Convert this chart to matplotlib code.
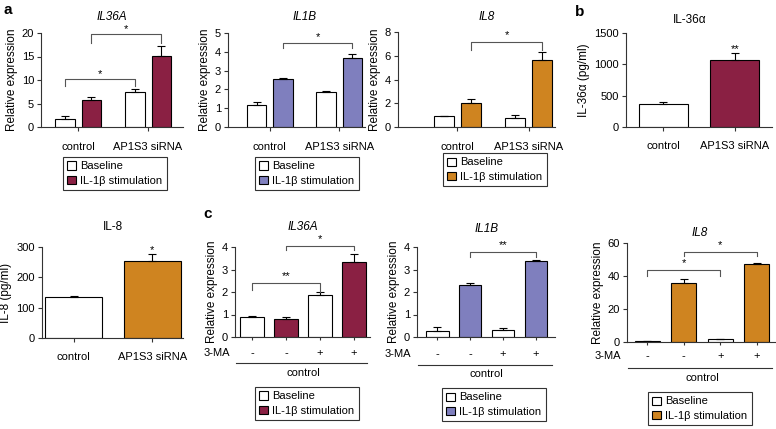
import matplotlib.pyplot as plt
import matplotlib.transforms as mtransforms
from matplotlib.patches import Patch
import numpy as np

plt.rcParams['font.family'] = ['Liberation Sans', 'DejaVu Sans']

# ---- data ----
groups = ['control', 'AP1S3 siRNA']
ma_signs = ['-', '-', '+', '+']

# panel a (qPCR, baseline vs IL-1b stimulation)
a_il36a_base = [1.6, 7.45]
a_il36a_base_err = [0.65, 0.6]
a_il36a_stim = [5.8, 15.2]
a_il36a_stim_err = [0.5, 2.0]

a_il1b_base = [1.15, 1.86]
a_il1b_base_err = [0.18, 0.07]
a_il1b_stim = [2.57, 3.67]
a_il1b_stim_err = [0.03, 0.2]

a_il8_base = [0.95, 0.75]
a_il8_base_err = [0.0, 0.28]
a_il8_stim = [2.0, 5.63]
a_il8_stim_err = [0.38, 0.7]

# panel b (ELISA)
b_il36 = [367, 1069]
b_il36_err = [32, 112]
b_il8 = [134, 253]
b_il8_err = [5, 23]

# panel c (3-MA)
c_il36a = [0.88, 0.80, 1.87, 3.33]
c_il36a_err = [0.05, 0.08, 0.15, 0.34]
c_il1b = [0.27, 2.31, 0.29, 3.38]
c_il1b_err = [0.16, 0.08, 0.11, 0.04]
c_il8 = [0.7, 35.5, 1.6, 47.5]
c_il8_err = [0.1, 2.5, 0.2, 0.4]

MAROON = '#8A2043'
LAVENDER = '#7F7FBE'
ORANGE = '#CF8420'
LINE = '#333333'

W, H = 776, 429
fig = plt.figure(figsize=(W / 100, H / 100), dpi=100)


def px_axes(x0, y0, x1, y1):
    return fig.add_axes([x0 / W, 1 - y1 / H, (x1 - x0) / W, (y1 - y0) / H])


def ftext(x, y, s, **kw):
    fig.text(x / W, 1 - y / H, s, ha='center', va='center', **kw)


def style(ax, ylim, yticks):
    for s in ['top', 'right']:
        ax.spines[s].set_visible(False)
    for s in ['left', 'bottom']:
        ax.spines[s].set_linewidth(0.8)
        ax.spines[s].set_color(LINE)
    ax.set_ylim(*ylim)
    ax.set_yticks(yticks)
    ax.tick_params(labelsize=8, length=3, width=0.8, color=LINE, pad=2)


def errs(ax, x, y, e):
    ax.errorbar(x, y, yerr=[np.zeros(len(e)), e], fmt='none', ecolor='black',
                elinewidth=0.8, capsize=3, capthick=0.8, clip_on=False)


def bracket(ax, x1, x2, ytop, yl, yr, star, soff):
    ax.plot([x1, x1, x2, x2], [yl, ytop, ytop, yr], color='#555555', lw=0.8,
            clip_on=False)
    ax.text((x1 + x2) / 2, ytop + soff, star, ha='center', va='center',
            fontsize=8)


def legend(ax, color, x, y):
    handles = [Patch(facecolor='white', edgecolor='black', lw=0.8),
               Patch(facecolor=color, edgecolor='black', lw=0.8)]
    leg = ax.legend(handles, ['Baseline', 'IL-1\u03b2 stimulation'],
                    loc='upper left', bbox_to_anchor=(x / W, 1 - y / H),
                    bbox_transform=fig.transFigure, fontsize=8,
                    handlelength=0.75, handleheight=0.75, handletextpad=0.4,
                    labelspacing=0.4, borderpad=0.4, borderaxespad=0,
                    fancybox=False, framealpha=1)
    leg.get_frame().set_edgecolor(LINE)
    leg.get_frame().set_linewidth(0.8)


def grouped(ax, base, base_err, stim, stim_err, color, xlim):
    x = np.arange(len(groups))
    off, w = 0.19, 0.28
    ax.bar(x - off, base, w, color='white', edgecolor='black', lw=0.8)
    ax.bar(x + off, stim, w, color=color, edgecolor='black', lw=0.8)
    errs(ax, x - off, base, base_err)
    errs(ax, x + off, stim, stim_err)
    ax.set_xticks(x)
    ax.set_xticklabels(groups)
    ax.tick_params(axis='x', pad=8)
    ax.set_xlim(*xlim)
    ax.set_ylabel('Relative expression', fontsize=8.5, labelpad=3)
    return x, off


def two_bar(ax, vals, err, color, xlim, w):
    x = np.arange(len(groups))
    ax.bar(x, vals, w, color=['white', color], edgecolor='black', lw=0.8)
    errs(ax, x, vals, err)
    ax.set_xticks(x)
    ax.set_xticklabels(groups)
    ax.tick_params(axis='x', pad=7)
    ax.set_xlim(*xlim)
    return x


def four_bar(ax, vals, err, color, xlim, rows):
    x = np.arange(len(ma_signs))
    ax.bar(x, vals, 0.68, color=['white', color, 'white', color],
           edgecolor='black', lw=0.8)
    errs(ax, x, vals, err)
    ax.set_xticks(x)
    ax.set_xticklabels([])
    ax.tick_params(axis='x', length=2.5)
    ax.set_xlim(*xlim)
    ax.set_ylabel('Relative expression', fontsize=8.5, labelpad=3)
    tr = mtransforms.blended_transform_factory(ax.transData, ax.transAxes)
    ysign, yline, yctrl = rows
    for xi, s in zip(x, ma_signs):
        ax.text(xi, ysign, s, transform=tr, ha='center', va='center', fontsize=8)
    ax.text(-0.04, ysign, '3-MA', transform=ax.transAxes, ha='right',
            va='center', fontsize=8)
    ax.plot([0.01, 0.98], [yline, yline], transform=ax.transAxes, color=LINE,
            lw=0.8, clip_on=False)
    ax.text(1.5, yctrl, 'control', transform=tr, ha='center', va='center',
            fontsize=8)
    return x


# ---- panel a: IL36A ----
ax = px_axes(41, 33, 183, 127)
style(ax, (0, 20), [0, 5, 10, 15, 20])
x, off = grouped(ax, a_il36a_base, a_il36a_base_err, a_il36a_stim,
                 a_il36a_stim_err, MAROON, (-0.53, 1.5))
bracket(ax, x[0] - off, x[1] - off, 10.2, 8.7, 8.7, '*', 1.0)
bracket(ax, x[0] + off, x[1] + off, 19.8, 17.9, 17.9, '*', 1.0)
legend(ax, MAROON, 63, 157)
ftext(112, 17, 'IL36A', fontsize=8.5, style='italic')

# ---- panel a: IL1B ----
ax = px_axes(228, 33, 365, 127)
style(ax, (0, 5), [0, 1, 2, 3, 4, 5])
x, off = grouped(ax, a_il1b_base, a_il1b_base_err, a_il1b_stim,
                 a_il1b_stim_err, LAVENDER, (-0.6, 1.37))
bracket(ax, x[0] + off, x[1] + off, 4.47, 4.2, 4.2, '*', 0.3)
legend(ax, LAVENDER, 255, 157)
ftext(305, 17, 'IL1B', fontsize=8.5, style='italic')

# ---- panel a: IL8 ----
ax = px_axes(398, 32, 555, 127)
style(ax, (0, 8), [0, 2, 4, 6, 8])
x, off = grouped(ax, a_il8_base, a_il8_base_err, a_il8_stim,
                 a_il8_stim_err, ORANGE, (-0.83, 1.37))
bracket(ax, x[0] + off, x[1] + off, 7.2, 6.5, 6.5, '*', 0.55)
legend(ax, ORANGE, 443, 153)
ftext(487, 17, 'IL8', fontsize=8.5, style='italic')

# ---- panel b: IL-36a ELISA ----
ax = px_axes(626, 33, 772, 127)
style(ax, (0, 1500), [0, 500, 1000, 1500])
x = two_bar(ax, b_il36, b_il36_err, MAROON, (-0.52, 1.52), 0.68)
ax.text(x[1], b_il36[1] + b_il36_err[1] + 60, '**', ha='center', va='center',
        fontsize=8)
ax.set_ylabel('IL-36\u03b1 (pg/ml)', fontsize=8.5, labelpad=3)
ftext(690, 20, 'IL-36\u03b1', fontsize=8.5)

# ---- panel b: IL-8 ELISA ----
ax = px_axes(42, 247, 183, 338)
style(ax, (0, 300), [0, 100, 200, 300])
x = two_bar(ax, b_il8, b_il8_err, ORANGE, (-0.4, 1.39), 0.72)
ax.text(x[1], b_il8[1] + b_il8_err[1] + 14, '*', ha='center', va='center',
        fontsize=8)
ax.set_ylabel('IL-8 (pg/ml)', fontsize=8.5, labelpad=3)
ftext(113, 227, 'IL-8', fontsize=8.5)

# ---- panel c: IL36A ----
ax = px_axes(235, 247, 370, 337)
style(ax, (0, 4), [0, 1, 2, 3, 4])
x = four_bar(ax, c_il36a, c_il36a_err, MAROON, (-0.5, 3.47),
             (-0.18, -0.29, -0.40))
bracket(ax, x[0], x[2], 2.4, 2.1, 2.0, '**', 0.3)
bracket(ax, x[1], x[3], 4.05, 3.85, 3.85, '*', 0.3)
legend(ax, MAROON, 255, 387)
ftext(303, 227, 'IL36A', fontsize=8.5, style='italic')

# ---- panel c: IL1B ----
ax = px_axes(417, 247, 555, 337)
style(ax, (0, 4), [0, 1, 2, 3, 4])
x = four_bar(ax, c_il1b, c_il1b_err, LAVENDER, (-0.62, 3.58),
             (-0.19, -0.31, -0.41))
bracket(ax, x[1], x[3], 3.78, 3.55, 3.55, '**', 0.3)
legend(ax, LAVENDER, 442, 388)
ftext(487, 229, 'IL1B', fontsize=8.5, style='italic')

# ---- panel c: IL8 ----
ax = px_axes(627, 243, 775, 342)
style(ax, (0, 60), [0, 20, 40, 60])
x = four_bar(ax, c_il8, c_il8_err, ORANGE, (-0.55, 3.5),
             (-0.14, -0.26, -0.36))
bracket(ax, x[0], x[2], 43.6, 40, 40, '*', 4)
bracket(ax, x[1], x[3], 54.5, 52, 52, '*', 4)
legend(ax, ORANGE, 648, 392)
ftext(700, 233, 'IL8', fontsize=8.5, style='italic')

# panel letters
ftext(8, 10, 'a', fontsize=11, fontweight='bold')
ftext(580, 12, 'b', fontsize=11, fontweight='bold')
ftext(208, 214, 'c', fontsize=11, fontweight='bold')

fig.savefig('out.png', dpi=100)
